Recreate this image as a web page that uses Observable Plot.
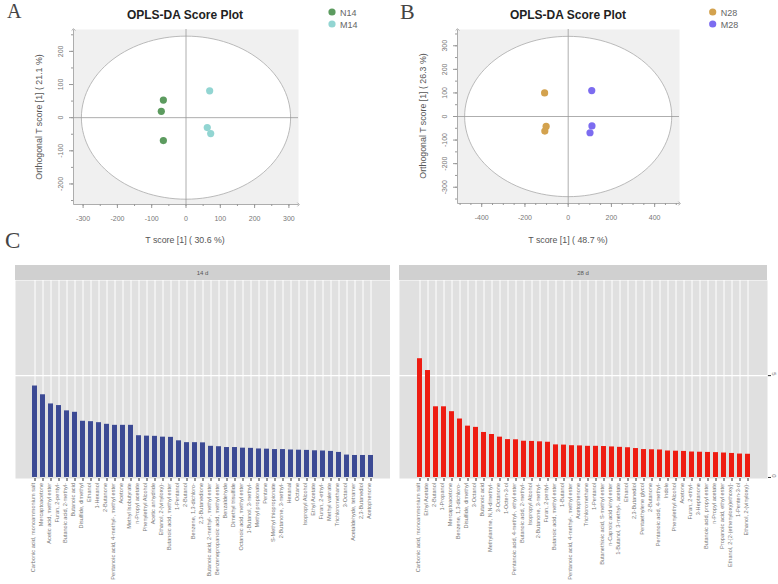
<!DOCTYPE html>
<html><head><meta charset="utf-8">
<script src="https://cdn.jsdelivr.net/npm/d3@7"></script>
<script src="https://cdn.jsdelivr.net/npm/@observablehq/plot@0.6"></script>
<style>
body{margin:0;background:#fff;}
#root{position:relative;width:778px;height:584px;overflow:hidden;font-family:"Liberation Sans",Arial,sans-serif;}
#root > svg{position:absolute;}
</style></head><body><div id="root"></div>
<script>
// ---------- Panel A data ----------
const groupA = ["N14","N14","N14","M14","M14","M14"];
const tScoreA = [-66, -72, -66, 69, 62, 72];
const toScoreA = [53, 19, -69, 81, -30, -48];
const groupsA = ["N14","M14"];
const colorsA = ["#5c9b5f","#92d5d2"];
const ticksAx = [-300,-200,-100,0,100,200,300];
const ticksAy = [-200,-100,0,100,200];
const ellipseA = [305, 246]; // semi-axes (T2 ellipse)

// ---------- Panel B data ----------
const groupB = ["N28","N28","N28","M28","M28","M28"];
const tScoreB = [-109, -102, -108, 109, 110, 101];
const toScoreB = [100, -42, -62, 110, -40, -69];
const groupsB = ["N28","M28"];
const colorsB = ["#d3a24e","#7c6cf0"];
const ticksBx = [-400,-200,0,200,400];
const ticksBy = [-300,-200,-100,0,100,200,300];
const ellipseB = [479, 340];

// ---------- Panel C data ----------
const cats14 = ["Carbonic acid, monoammonium salt","Mercaptoacetone","Acetic acid, methyl ester","Furan, 2-pentyl-","Butanoic acid, 2-methyl-","Butanoic acid","Disulfide, dimethyl","Ethanol","1-Hexanol","2-Butanone","Pentanoic acid, 4-methyl-, methyl ester","Acetone","Methyl Isobutyrate","n-Propyl acetate","Phenylethyl Alcohol","Acetic anhydride","Ethanol, 2-(vinyloxy)-","Butanoic acid, methyl ester","1-Pentanol","2-Butanol","Benzene, 1,3-dichloro-","2,3-Butanedione","Butanoic acid, 2-methyl-, methyl ester","Benzenepropanoic acid, methyl ester","Benzaldehyde","Dimethyl trisulfide","Octanoic acid, methyl ester","1-Butanol, 3-methyl-","Methyl propionate","Pentane","S-Methyl thiopropionate","2-Butanone, 3-methyl-","Hexanal","Octane","Isopropyl Alcohol","Ethyl Acetate","Furan, 2-ethyl-","Methyl valerate","Trichloromethane","3-Octanol","Acetaldehyde, tetramer","2,3-Butanediol","Acetophenone"];
const vals14 = [4.49,4.06,3.61,3.53,3.27,3.20,2.76,2.74,2.69,2.61,2.56,2.56,2.56,2.05,2.03,2.02,1.98,1.97,1.80,1.71,1.71,1.70,1.53,1.51,1.47,1.47,1.44,1.43,1.40,1.39,1.37,1.37,1.35,1.34,1.33,1.31,1.30,1.28,1.23,1.10,1.08,1.08,1.08];
const cats28 = ["Carbonic acid, monoammonium salt","Ethyl Acetate","2-Butanol","1-Propanol","Mercaptoacetone","Benzene, 1,3-dichloro-","Disulfide, dimethyl","3-Octanol","Butanoic acid","Methylamine, N,N-dimethyl-","3-Octanone","1-Octen-3-ol","Pentanoic acid, 4-methyl-, ethyl ester","Butanoic acid, 2-methyl-","Isopropyl Alcohol","2-Butanone, 3-methyl-","Furan, 2-pentyl-","Butanoic acid, methyl ester","1-Butanol","Pentanoic acid, 4-methyl-, methyl ester","Acetophenone","Trichloromethane","1-Pentanol","Butanethioic acid, S-methyl ester","n-Caproic acid vinyl ester","1-Butanol, 3-methyl-, acetate","Ethanol","2,3-Butanediol","Pentaethylene glycol","2-Butanone","Pentanoic acid, 4-methyl-","Indole","Phenylethyl Alcohol","Acetone","Furan, 2-ethyl-","3-Heptanone","Butanoic acid, propyl ester","n-Propyl acetate","Propanoic acid, ethyl ester","Ethanol, 2-[2-(ethenyloxy)ethoxy]-","1-Penten-3-ol","Ethanol, 2-(vinyloxy)-"];
const vals28 = [5.83,5.25,3.47,3.47,3.23,2.87,2.52,2.46,2.21,2.11,1.98,1.86,1.85,1.78,1.77,1.75,1.73,1.60,1.59,1.56,1.55,1.53,1.53,1.52,1.50,1.48,1.46,1.42,1.37,1.36,1.35,1.30,1.29,1.28,1.25,1.24,1.23,1.22,1.20,1.18,1.15,1.14];
const yTicksC = [0, 5];

const root = document.getElementById("root");
const FONT = "Liberation Sans, Arial, sans-serif";

function place(svg, left, top) {
  svg.style.left = left + "px";
  svg.style.top = top + "px";
  svg.style.position = "absolute";
  root.appendChild(svg);
}

function scorePlot(o) {
  const data = o.t.map((v, i) => ({t: v, o: o.o[i], g: o.g[i]}));
  const [a, b] = o.ell;
  const ell = d3.range(0, 361, 3).map(deg => ({x: a * Math.cos(deg * Math.PI / 180), y: b * Math.sin(deg * Math.PI / 180)}));
  const xMinor = d3.range(Math.ceil(o.xDomain[0] / o.xStep * 2) * o.xStep / 2, o.xDomain[1], o.xStep / 2);
  const yMinor = d3.range(Math.ceil(o.yDomain[0] / o.yStep * 2) * o.yStep / 2, o.yDomain[1], o.yStep / 2);
  return Plot.plot({
    width: o.width, height: o.height,
    marginLeft: o.ml, marginRight: o.mr, marginTop: o.mt, marginBottom: o.mb,
    style: {fontFamily: FONT, color: "#999", background: "transparent"},
    x: {domain: o.xDomain, label: null},
    y: {domain: o.yDomain, label: null},
    color: {domain: o.groups, range: o.colors},
    marks: [
      Plot.frame({fill: "#f0f0f0", stroke: "none"}),
      Plot.line(ell, {x: "x", y: "y", fill: "white", stroke: "#aaa", strokeWidth: 0.8}),
      Plot.ruleX([0], {stroke: "#999", strokeWidth: 0.8}),
      Plot.ruleY([0], {stroke: "#999", strokeWidth: 0.8}),
      Plot.axisX(xMinor, {tickSize: 2, tickFormat: () => "", label: null}),
      Plot.axisX(o.xTicks, {tickSize: 4, tickPadding: 8, fontSize: 7, tickFormat: d => String(d), fill: "#777", label: null}),
      Plot.axisY(yMinor, {tickSize: 2, tickFormat: () => "", label: null}),
      Plot.axisY(o.yTicks, {tickSize: 4, tickFormat: () => "", label: null}),
      Plot.text(o.yTicks, {x: o.xDomain[0], y: d => d, text: d => String(d), rotate: -90, dx: -12.5, fontSize: 7, fill: "#777"}),
      Plot.link([0], {x1: o.xDomain[0], x2: o.xDomain[0], y1: o.yDomain[0], y2: o.yDomain[1], stroke: "#999", strokeWidth: 0.8, markerEnd: "arrow"}),
      Plot.link([0], {x1: o.xDomain[0], x2: o.xDomain[1], y1: o.yDomain[0], y2: o.yDomain[0], stroke: "#999", strokeWidth: 0.8, markerEnd: "arrow"}),
      Plot.dot(data, {x: "t", y: "o", fill: "g", r: 3.6})
    ]
  });
}

function barPlot(o) {
  const data = o.cats.map((c, i) => ({c, v: o.vals[i]}));
  const marks = [
    Plot.frame({fill: "#e0e0e0", stroke: "none"}),
    Plot.ruleX(o.cats, {x: d => d, stroke: "white", strokeWidth: 1}),
    Plot.ruleY([5], {stroke: "white", strokeWidth: 1.2}),
    Plot.barY(data, {x: "c", y: "v", fill: o.color}),
    Plot.axisX({tickSize: 3, tickFormat: () => "", stroke: "#333", label: null}),
    Plot.text(o.cats, {x: d => d, text: d => d, frameAnchor: "bottom", rotate: -90, textAnchor: "end", dy: 4.5, fontSize: 5.6, fill: "#777"})
  ];
  if (o.rightAxis) {
    marks.push(Plot.axisY(yTicksC, {anchor: "right", tickSize: 3, tickFormat: () => "", stroke: "#333", label: null}));
    marks.push(Plot.text(yTicksC, {y: d => d, text: d => String(d), frameAnchor: "right", dx: 6, rotate: 90, fontSize: 6, fill: "#777"}));
  }
  return Plot.plot({
    width: o.width, height: 304,
    marginLeft: o.ml, marginRight: o.mr, marginTop: 0, marginBottom: 106,
    style: {fontFamily: FONT, background: "transparent"},
    x: {domain: o.cats, paddingInner: 0.42, paddingOuter: 0.6, label: null},
    y: {domain: [-0.05, 9.67], label: null, axis: o.rightAxis ? undefined : null},
    marks
  });
}

place(scorePlot({t: tScoreA, o: toScoreA, g: groupA, groups: groupsA, colors: colorsA,
  xDomain: [-328, 328], yDomain: [-262, 266], xTicks: ticksAx, yTicks: ticksAy, xStep: 100, yStep: 100,
  ell: ellipseA, width: 390, height: 250, ml: 73, mr: 92, mt: 29, mb: 46}), 0, 0);
place(scorePlot({t: tScoreB, o: toScoreB, g: groupB, groups: groupsB, colors: colorsB,
  xDomain: [-512, 515], yDomain: [-369, 369], xTicks: ticksBx, yTicks: ticksBy, xStep: 100, yStep: 100,
  ell: ellipseB, width: 388, height: 250, ml: 67, mr: 99, mt: 29, mb: 47}), 390, 0);

place(barPlot({cats: cats14, vals: vals14, color: "#3c4a94", width: 390, ml: 15, mr: 0, rightAxis: false}), 0, 280);
place(barPlot({cats: cats28, vals: vals28, color: "#ee1c12", width: 388, ml: 9, mr: 11, rightAxis: true}), 390, 280);

// ---------- overlay annotations ----------
const ov = d3.select(root).append("svg").attr("width", 778).attr("height", 584)
  .style("left", "0px").style("top", "0px").style("pointer-events", "none")
  .style("font-family", FONT);
function txt(x, y, s, opts = {}) {
  const t = ov.append("text").attr("x", x).attr("y", y).text(s)
    .attr("font-size", opts.size || 9).attr("fill", opts.fill || "#555")
    .attr("text-anchor", opts.anchor || "start");
  if (opts.weight) t.attr("font-weight", opts.weight);
  if (opts.family) t.attr("font-family", opts.family);
  if (opts.baseline) t.attr("dominant-baseline", opts.baseline);
  if (opts.rotate) t.attr("transform", `rotate(${opts.rotate},${x},${y})`);
  return t;
}
const SERIF = "Liberation Serif, DejaVu Serif, serif";
txt(7, 18, "A", {size: 20, fill: "#444", family: SERIF});
txt(400, 19, "B", {size: 22, fill: "#444", family: SERIF});
txt(5, 248, "C", {size: 23, fill: "#444", family: SERIF});

txt(185, 19, "OPLS-DA Score Plot", {size: 12, weight: "bold", fill: "#222", anchor: "middle"});
txt(568, 19, "OPLS-DA Score Plot", {size: 12, weight: "bold", fill: "#222", anchor: "middle"});

[[332, groupsA, colorsA], [712.7, groupsB, colorsB]].forEach(([x, gs, cs]) => {
  gs.forEach((g, i) => {
    ov.append("circle").attr("cx", x).attr("cy", 12 + i * 12).attr("r", 3.6).attr("fill", cs[i]);
    txt(x + 8, 15.5 + i * 12, g, {size: 9, fill: "#666"});
  });
});

txt(185, 243, "T score [1] ( 30.6 %)", {size: 8.8, fill: "#555", anchor: "middle"});
txt(568, 243, "T score [1] ( 48.7 %)", {size: 8.8, fill: "#555", anchor: "middle"});
txt(39, 117, "Orthogonal T score [1] ( 21.1 %)", {size: 8.8, fill: "#555", anchor: "middle", baseline: "central", rotate: -90});
txt(423, 116, "Orthogonal T score [1] ( 26.3 %)", {size: 8.8, fill: "#555", anchor: "middle", baseline: "central", rotate: -90});

// facet strips
ov.insert("rect", ":first-child").attr("x", 15).attr("y", 265).attr("width", 375).attr("height", 15).attr("fill", "#d0d0d0");
ov.insert("rect", ":first-child").attr("x", 399).attr("y", 265).attr("width", 368).attr("height", 15).attr("fill", "#d0d0d0");
txt(202.5, 272.5, "14 d", {size: 6, fill: "#555", anchor: "middle", baseline: "central"});
txt(583, 272.5, "28 d", {size: 6, fill: "#555", anchor: "middle", baseline: "central"});
</script></body></html>
